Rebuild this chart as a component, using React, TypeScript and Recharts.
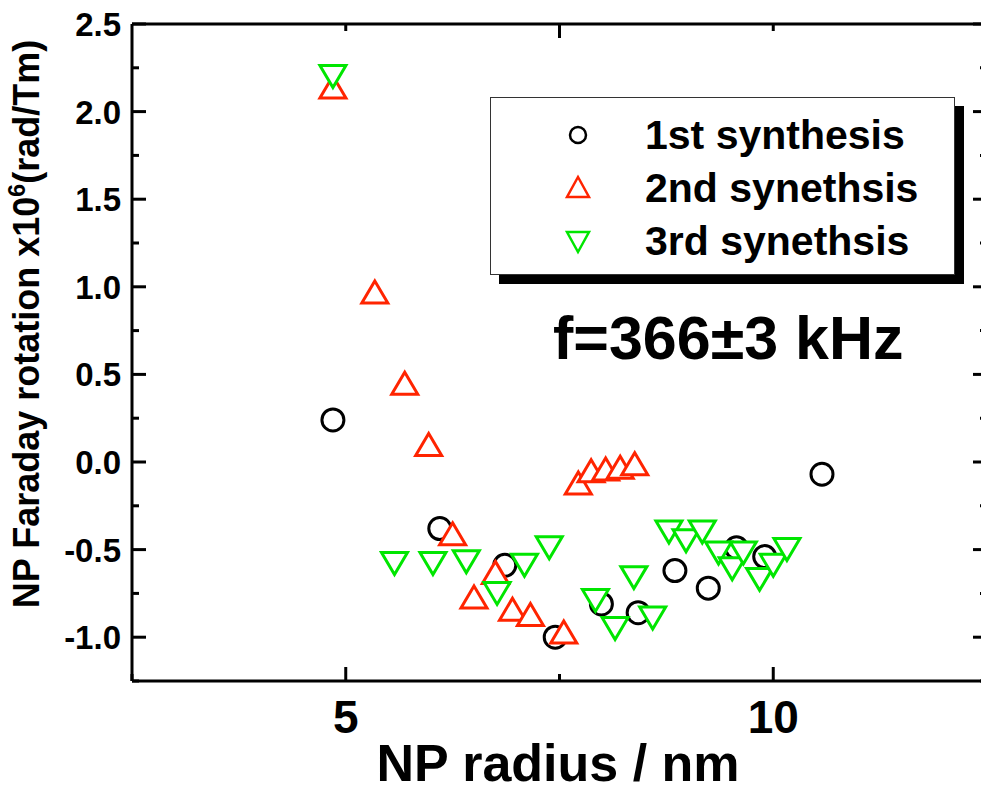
import React from "react"
import { ScatterChart, Scatter, XAxis, YAxis } from "recharts"

const FONT = '"Liberation Sans", Arial, Helvetica, sans-serif'
const RED = "#ff2400"
const GREEN = "#00e600"

// NP radius (nm) / Faraday rotation (x10^6 rad/Tm)
const radius1 = [4.85, 6.1, 6.86, 7.45, 7.99, 8.42, 8.85, 9.24, 9.57, 9.9, 10.57]
const rotation1 = [0.24, -0.38, -0.59, -1.0, -0.81, -0.86, -0.62, -0.72, -0.49, -0.54, -0.07]

const radius2 = [4.85, 5.34, 5.69, 5.97, 6.25, 6.5, 6.75, 6.95, 7.16, 7.55, 7.72, 7.87, 8.04, 8.21, 8.38]
const rotation2 = [2.14, 0.97, 0.45, 0.1, -0.41, -0.77, -0.63, -0.84, -0.87, -0.97, -0.12, -0.05, -0.04, -0.03, -0.01]

const radius3 = [4.85, 5.57, 6.02, 6.41, 6.77, 7.09, 7.38, 7.92, 8.15, 8.37, 8.59, 8.78, 8.98, 9.17, 9.36, 9.52, 9.65, 9.84, 10.0, 10.16]
const rotation3 = [2.2, -0.58, -0.58, -0.57, -0.75, -0.59, -0.49, -0.79, -0.95, -0.66, -0.89, -0.4, -0.45, -0.4, -0.52, -0.61, -0.52, -0.67, -0.59, -0.5]

const seriesNames = ["1st synthesis", "2nd synethsis", "3rd synethsis"]

const xTicks = [2.5, 5, 7.5, 10, 12.5]
const xLabeled = [5, 10]
const yTicks = [-1.25, -1.0, -0.75, -0.5, -0.25, 0, 0.25, 0.5, 0.75, 1.0, 1.25, 1.5, 1.75, 2.0, 2.25, 2.5]
const yLabeled = [-1.0, -0.5, 0, 0.5, 1.0, 1.5, 2.0, 2.5]

const annotation = "f=366\u00b13 kHz"

const toPoints = (xs: number[], ys: number[]) => xs.map((x, i) => ({ x, y: ys[i] }))

const isMajor = (v: number, list: number[]) => list.some(m => Math.abs(m - v) < 1e-6)

const CircleMark = (p: any) => (
  <circle cx={p.cx} cy={p.cy} r={11} fill="#fff" stroke="#000" strokeWidth={3}/>
)
const UpMark = (p: any) => (
  <path d={`M${p.cx},${p.cy - 11}L${p.cx + 13},${p.cy + 11}L${p.cx - 13},${p.cy + 11}Z`}
    fill="#fff" stroke={RED} strokeWidth={3}/>
)
const DownMark = (p: any) => (
  <path d={`M${p.cx - 13},${p.cy - 11}L${p.cx + 13},${p.cy - 11}L${p.cx},${p.cy + 11}Z`}
    fill="#fff" stroke={GREEN} strokeWidth={3}/>
)
const NoMark = () => null

// ticks point inward; tickSize=0 so x/y is the axis line itself
const LeftTick = (p: any) => {
  const v = p.payload.value
  const major = isMajor(v, yLabeled)
  return (
    <g>
      <path d={`M${p.x},${p.y}h${major ? 14 : 7}`} stroke="#000" strokeWidth={3} fill="none"/>
      {major && (
        <text x={p.x - 11} y={p.y + 12} textAnchor="end" fontFamily={FONT} fontWeight="bold" fontSize={33}>
          {v.toFixed(1)}
        </text>
      )}
    </g>
  )
}
const RightTick = (p: any) => {
  const major = isMajor(p.payload.value, yLabeled)
  return <path d={`M${p.x},${p.y}h${major ? -14 : -7}`} stroke="#000" strokeWidth={3} fill="none"/>
}
const BottomTick = (p: any) => {
  const v = p.payload.value
  const major = isMajor(v, xLabeled)
  return (
    <g>
      <path d={`M${p.x},${p.y}v${major ? -14 : -7}`} stroke="#000" strokeWidth={3} fill="none"/>
      {major && (
        <text x={p.x} y={p.y + 52} textAnchor="middle" fontFamily={FONT} fontWeight="bold" fontSize={46}>
          {v}
        </text>
      )}
    </g>
  )
}
const TopTick = (p: any) => {
  const major = isMajor(p.payload.value, xLabeled)
  return <path d={`M${p.x},${p.y}v${major ? 14 : 7}`} stroke="#000" strokeWidth={3} fill="none"/>
}

const LegendIcon = ({ i }: { i: number }) => (
  <svg width={30} height={30} style={{ display: "block" }}>
    {i === 0 && <circle cx={15} cy={15} r={8} fill="none" stroke="#000" strokeWidth={2.5}/>}
    {i === 1 && <path d="M15,4L26,24L4,24Z" fill="none" stroke={RED} strokeWidth={2.5}/>}
    {i === 2 && <path d="M4,6L26,6L15,26Z" fill="none" stroke={GREEN} strokeWidth={2.5}/>}
  </svg>
)

const axisLine = { stroke: "#000", strokeWidth: 3 }

export default function App() {
  return (
    <div style={{ position: "fixed", left: 0, top: 0, width: 981, height: 791, overflow: "hidden", background: "#fff" }}>
      <div style={{ position: "relative", width: 995, height: 791 }}>
        <ScatterChart width={995} height={791} margin={{ top: 23, right: 7, bottom: 0, left: 0 }}>
          <XAxis
            type="number" dataKey="x" domain={[2.5, 12.5]} ticks={xTicks} interval={0}
            height={110} tickSize={0} tickMargin={0} tickLine={false}
            axisLine={axisLine} tick={<BottomTick/>}
            label={{
              content: () => (
                <text x={558} y={781} textAnchor="middle" fontFamily={FONT} fontWeight="bold" fontSize={52}>
                  NP radius / nm
                </text>
              )
            }}
          />
          <XAxis
            xAxisId="top" orientation="top" type="number" domain={[2.5, 12.5]} ticks={xTicks} interval={0}
            allowDataOverflow height={1} tickSize={0} tickMargin={0} tickLine={false}
            axisLine={axisLine} tick={<TopTick/>}
            label={{
              content: () => (
                <text x={553} y={359} fontFamily={FONT} fontWeight="bold" fontSize={61}>
                  {annotation}
                </text>
              )
            }}
          />
          <YAxis
            type="number" dataKey="y" domain={[-1.25, 2.5]} ticks={yTicks} interval={0}
            width={132} tickSize={0} tickMargin={0} tickLine={false}
            axisLine={axisLine} tick={<LeftTick/>}
            label={{
              content: () => (
                <text transform="rotate(-90 39 324)" x={39} y={324} textAnchor="middle"
                  fontFamily={FONT} fontWeight="bold" fontSize={36}>
                  NP Faraday rotation x10<tspan dy={-14} fontSize={23}>6</tspan>
                  <tspan dy={14}>(rad/Tm)</tspan>
                </text>
              )
            }}
          />
          <YAxis
            yAxisId="right" orientation="right" type="number" domain={[-1.25, 2.5]} ticks={yTicks} interval={0}
            allowDataOverflow width={1} tickSize={0} tickMargin={0} tickLine={false}
            axisLine={axisLine} tick={<RightTick/>}
          />
          <Scatter name={seriesNames[0]} data={toPoints(radius1, rotation1)} shape={CircleMark} isAnimationActive={false}/>
          <Scatter name={seriesNames[1]} data={toPoints(radius2, rotation2)} shape={UpMark} isAnimationActive={false}/>
          <Scatter name={seriesNames[2]} data={toPoints(radius3, rotation3)} shape={DownMark} isAnimationActive={false}/>
          {/* binds the mirrored top/right frame axes */}
          <Scatter xAxisId="top" yAxisId="right" data={toPoints(radius1, rotation1)} shape={NoMark} isAnimationActive={false}/>
        </ScatterChart>

        <div style={{
          position: "absolute", left: 490, top: 97, width: 465, height: 178,
          border: "1.5px solid #333", background: "#fff", boxShadow: "9px 9px 0 #000",
          boxSizing: "border-box", fontFamily: FONT, fontWeight: "bold", fontSize: 41
        }}>
          {seriesNames.map((n, i) => (
            <div key={n} style={{
              position: "absolute", left: 72, top: 22 + i * 53, height: 30,
              display: "flex", alignItems: "center"
            }}>
              <LegendIcon i={i}/>
              <span style={{ marginLeft: 52, lineHeight: "30px", whiteSpace: "nowrap" }}>{n}</span>
            </div>
          ))}
        </div>
      </div>
    </div>
  )
}
